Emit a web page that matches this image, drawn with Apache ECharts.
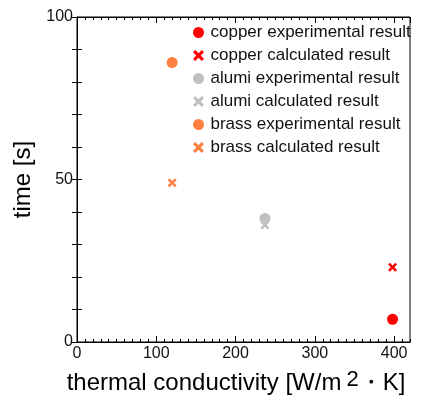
<!DOCTYPE html>
<html>
<head>
<meta charset="utf-8">
<script src="https://cdn.jsdelivr.net/npm/echarts@6/dist/echarts.min.js"></script>
<style>html,body{margin:0;padding:0;background:#fff}#c{width:422px;height:396px}</style>
</head>
<body>
<div id="c"></div>
<script>
const materials = ['copper', 'alumi', 'brass'];
const colors = ['#ff0000', '#c0c0c0', '#ff8040'];
const conductivity = [398, 237, 120];
const expTime = [7, 38, 86];
const calcTime = [23, 36, 49];
const xTickLabels = [0, 100, 200, 300, 400];
const yTickLabels = [0, 50, 100];

const crossPath = 'path://M2,0L5,3L8,0L10,2L7,5L10,8L8,10L5,7L2,10L0,8L3,5L0,2Z';
const font = 'Liberation Sans, Arial, sans-serif';

const series = [];
materials.forEach((m, i) => {
  series.push({
    name: m + ' experimental result', type: 'scatter', xAxisIndex: 0, yAxisIndex: 0,
    symbol: 'circle', symbolSize: 11, z: 3,
    itemStyle: { color: colors[i], opacity: 1 },
    data: [[conductivity[i], expTime[i]]]
  });
  series.push({
    name: m + ' calculated result', type: 'scatter', xAxisIndex: 0, yAxisIndex: 0,
    symbol: crossPath, symbolSize: 9, z: 2,
    itemStyle: { color: colors[i], opacity: 1 },
    data: [[conductivity[i], calcTime[i]]]
  });
});

const lineStyle = { color: '#000', width: 1 };
const chart = echarts.init(document.getElementById('c'), null, { renderer: 'canvas' });
chart.setOption({
  animation: false,
  grid: { left: 77, right: 12, top: 17, bottom: 54, show: true, borderColor: '#000', borderWidth: 1,
    containLabel: false, outerBoundsMode: 'none' },
  legend: {
    orient: 'vertical', left: 188, top: 19, itemWidth: 14, itemHeight: 11, itemGap: 6,
    textStyle: { fontFamily: font, fontSize: 17, color: '#111' },
    data: series.map(s => s.name)
  },
  xAxis: [
    { type: 'value', position: 'bottom', min: 0, max: 420, interval: 100,
      axisLine: { show: true, lineStyle }, axisTick: { show: true, inside: true, length: 6, lineStyle },
      axisLabel: { fontFamily: font, fontSize: 16, color: '#111', showMaxLabel: false, margin: 4,
        formatter: v => xTickLabels.includes(v) ? String(v) : '' },
      splitLine: { show: false },
      name: '{n|thermal conductivity [W/m}{s|2}{n|・K]}', nameLocation: 'middle', nameGap: 27,
      nameTextStyle: { padding: [0, 15, 0, 0], rich: { n: { fontFamily: font, fontSize: 24, color: '#000' },
        s: { fontFamily: font, fontSize: 22, color: '#000', padding: [0, 0, 6, 5] } } } },
    { type: 'value', position: 'bottom', min: 0, max: 420, interval: 10,
      axisLine: { show: false }, axisTick: { show: true, inside: true, length: 3, lineStyle },
      axisLabel: { show: false }, splitLine: { show: false } },
    { type: 'value', position: 'top', min: 0, max: 420, interval: 100,
      axisLine: { show: true, lineStyle }, axisTick: { show: true, inside: true, length: 6, lineStyle },
      axisLabel: { show: false }, splitLine: { show: false } },
    { type: 'value', position: 'top', min: 0, max: 420, interval: 10,
      axisLine: { show: false }, axisTick: { show: true, inside: true, length: 3, lineStyle },
      axisLabel: { show: false }, splitLine: { show: false } }
  ],
  yAxis: [
    { type: 'value', position: 'left', min: 0, max: 100, interval: 10,
      axisLine: { show: true, lineStyle }, axisTick: { show: true, inside: true, length: 5, lineStyle },
      axisLabel: { fontFamily: font, fontSize: 16, color: '#111', margin: 4,
        formatter: v => yTickLabels.includes(v) ? String(v) : '' },
      splitLine: { show: false },
      name: 'time [s]', nameLocation: 'middle', nameGap: 26,
      nameTextStyle: { fontFamily: font, fontSize: 24, color: '#000' } },
    { type: 'value', position: 'right', min: 0, max: 100, interval: 10,
      axisLine: { show: true, lineStyle }, axisTick: { show: true, inside: true, length: 5, lineStyle },
      axisLabel: { show: false }, splitLine: { show: false } }
  ],
  series: series
});
</script>
</body>
</html>
